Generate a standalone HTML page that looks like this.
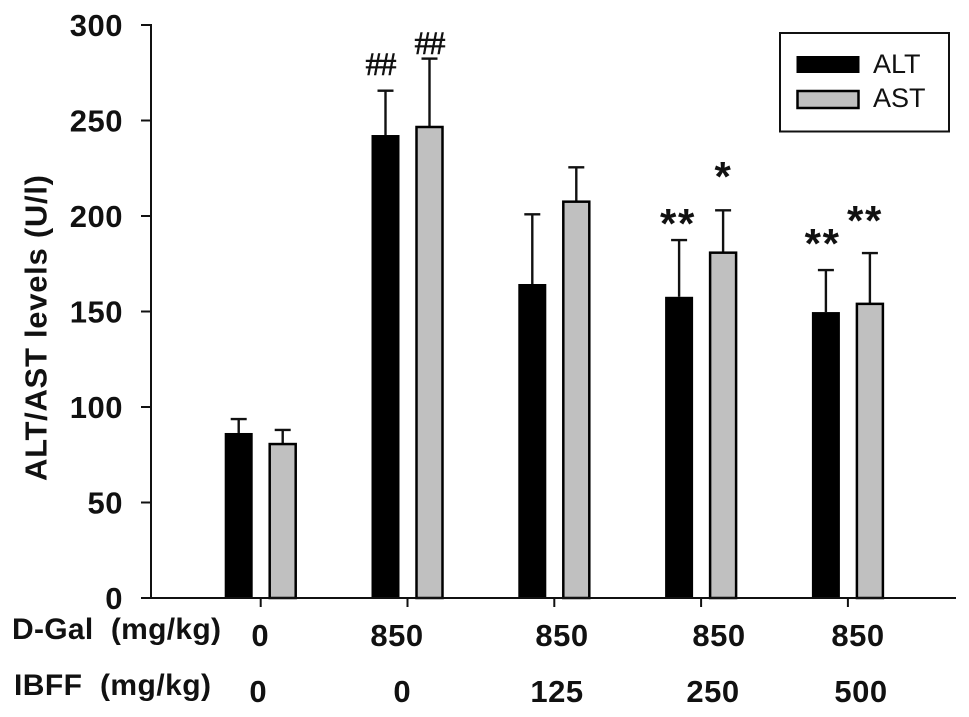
<!DOCTYPE html>
<html lang="en">
<head>
<meta charset="utf-8">
<title>ALT/AST levels</title>
<style>
html,body{margin:0;padding:0;background:#fff;width:969px;height:717px;overflow:hidden}
svg{display:block;font-family:"Liberation Sans",sans-serif}
.lbl{font-weight:bold;font-size:31px;fill:#111;white-space:pre}
.dose{font-weight:bold;font-size:31px;fill:#111;text-anchor:middle}
.hash{font-family:"Liberation Serif",serif;font-size:33px;fill:#111;stroke:#111;stroke-width:.6;text-anchor:middle;letter-spacing:-2px}
.star{font-family:"Liberation Sans",sans-serif;font-weight:bold;font-size:42px;fill:#111;text-anchor:middle;letter-spacing:1.7px}
</style>
</head>
<body>
<svg id="chart" width="969" height="717" viewBox="0 0 969 717" xmlns="http://www.w3.org/2000/svg">
  <rect width="969" height="717" fill="#fff"/>
  <g id="bars"></g>
  <g id="axes"></g>
  <text class="lbl" transform="translate(46.5,481) rotate(-90)" textLength="306" lengthAdjust="spacing">ALT/AST levels (U/l)</text>

  <text class="lbl" style="font-size:30px" x="12" y="639" textLength="209" lengthAdjust="spacing">D-Gal  (mg/kg)</text>
  <text class="lbl" style="font-size:30px" x="14" y="695" textLength="197" lengthAdjust="spacing">IBFF  (mg/kg)</text>

  <text class="dose" x="260" y="646">0</text>
  <text class="dose" x="397" y="646" letter-spacing="0.5">850</text>
  <text class="dose" x="562" y="646" letter-spacing="0.5">850</text>
  <text class="dose" x="719" y="646" letter-spacing="0.5">850</text>
  <text class="dose" x="858" y="646" letter-spacing="0.5">850</text>

  <text class="dose" x="258" y="702">0</text>
  <text class="dose" x="402" y="702">0</text>
  <text class="dose" x="557" y="702" letter-spacing="0.5">125</text>
  <text class="dose" x="713" y="702" letter-spacing="0.5">250</text>
  <text class="dose" x="861" y="702" letter-spacing="0.5">500</text>

  <g>
    <text class="hash" x="380" y="75">##</text>
    <text class="hash" x="429" y="54">##</text>
    <text class="star" x="678" y="238">**</text>
    <text class="star" x="723.5" y="191">*</text>
    <text class="star" x="822.7" y="258">**</text>
    <text class="star" x="865" y="235">**</text>
  </g>

  <g>
    <rect x="780" y="33" width="169" height="98.5" fill="#fff" stroke="#111" stroke-width="2"/>
    <rect x="796.5" y="56" width="63" height="17" fill="#000"/>
    <rect x="797.5" y="91" width="61" height="17" fill="#c0c0c0" stroke="#000" stroke-width="2.5"/>
    <text x="873" y="73" font-size="27" fill="#111">ALT</text>
    <text x="873" y="107" font-size="27" fill="#111">AST</text>
  </g>
</svg>
<script>
const yTickValues = [0, 50, 100, 150, 200, 250, 300];
const altMeans = [86.4, 242.4, 164.4, 157.7, 149.7];
const altUpper = [93.7, 265.6, 200.9, 187.4, 171.7];
const astMeans = [80.6, 246.6, 207.5, 180.8, 154];
const astUpper = [88, 282.4, 225.5, 203, 180.6];

const NS = 'http://www.w3.org/2000/svg';
const barsG = document.getElementById('bars');
const axesG = document.getElementById('axes');

function yScale(v) { return 598 - v * (573 / 300); }
function groupCenter(i) { return 260.7 + 146.8 * i; }
function make(tag, parent, attrs) {
  const el = document.createElementNS(NS, tag);
  for (const k in attrs) el.setAttribute(k, attrs[k]);
  parent.appendChild(el);
  return el;
}

function drawSeries(key, means, upper, offset, isGray) {
  means.forEach(function (v, i) {
    const cx = groupCenter(i) + offset;
    const top = yScale(v);
    const capY = yScale(upper[i]);

    const stem = make('line', barsG, { x1: cx, x2: cx, y1: top, y2: capY, stroke: '#111', 'stroke-width': 2.4 });
    
    

    const cap = make('line', barsG, { x1: cx - 8, x2: cx + 8, y1: capY, y2: capY, stroke: '#111', 'stroke-width': 2.4 });
    
    

    const bar = isGray
      ? make('rect', barsG, { x: cx - 13, y: top, width: 26, height: 598 - top, fill: '#c0c0c0', stroke: '#000', 'stroke-width': 2.5 })
      : make('rect', barsG, { x: cx - 14, y: top, width: 28, height: 598 - top, fill: '#000' });
    
    
  });
}

drawSeries('alt', altMeans, altUpper, -22, false);
drawSeries('ast', astMeans, astUpper, 22, true);

const yAxis = make('line', axesG, { x1: 151, x2: 151, y1: yScale(300) - 1, y2: 599, stroke: '#111', 'stroke-width': 2 });



const xAxis = make('line', axesG, { x1: 141, x2: 956, y1: 598, y2: 598, stroke: '#111', 'stroke-width': 2 });



yTickValues.forEach(function (v) {
  const y = yScale(v);
  const t = make('line', axesG, { x1: 141, x2: 151, y1: y, y2: y, stroke: '#111', 'stroke-width': 2 });
  
  
  const l = make('text', axesG, { x: 123, y: y + 11, 'text-anchor': 'end', class: 'lbl', 'letter-spacing': 0.5 });
  
  
  l.textContent = v;
});

altMeans.forEach(function (_, i) {
  const x = groupCenter(i);
  const t = make('line', axesG, { x1: x, x2: x, y1: 598, y2: 607, stroke: '#111', 'stroke-width': 2 });
  
  
});
</script>
</body>
</html>
